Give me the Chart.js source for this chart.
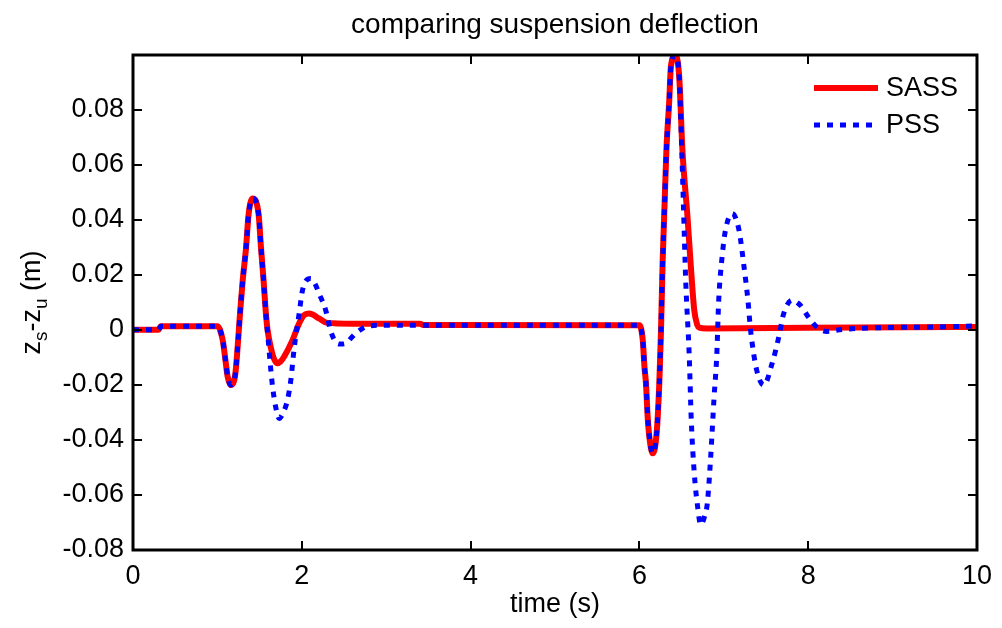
<!DOCTYPE html>
<html>
<head>
<meta charset="utf-8">
<script src="https://cdn.jsdelivr.net/npm/chart.js@4"></script>
<style>
  html, body { margin: 0; padding: 0; background: #fff; }
  canvas { display: block; }
</style>
</head>
<body>
<canvas id="deflChart" width="1002" height="628"></canvas>
<script>
// suspension deflection z_s - z_u (m) against time (s)
const sassTime = [0, 0.3, 0.33, 1.0, 1.063, 1.095, 1.122, 1.16, 1.213, 1.24, 1.268, 1.30, 1.34, 1.37, 1.417,
  1.488, 1.516, 1.547, 1.575, 1.594, 1.634, 1.67, 1.712, 1.75, 1.79, 1.89, 1.968, 2.027, 2.08, 2.13, 2.204,
  2.30, 2.59, 3.40, 3.44, 6.0, 6.04, 6.06, 6.078, 6.098, 6.118, 6.157, 6.204, 6.236, 6.255, 6.275, 6.30,
  6.32, 6.354, 6.373, 6.425, 6.472, 6.51, 6.57, 6.61, 6.65, 6.685, 6.71, 6.8, 8.0, 10.0];
const sassDefl = [0, 0, 0.0013, 0.0013, -0.0038, -0.011, -0.0171, -0.0201, -0.0159, -0.0062, 0.0059, 0.018, 0.030, 0.042, 0.0477,
  0.042, 0.030, 0.018, 0.0058, 0, -0.0066, -0.0105, -0.0122, -0.0115, -0.0098, -0.0038, 0.0023, 0.0053, 0.0059, 0.0055, 0.0041,
  0.0025, 0.0022, 0.0022, 0.0017, 0.0016, -0.0038, -0.0135, -0.0195, -0.0316, -0.0389, -0.0449, -0.0377, -0.0194, -0.0013, 0.0242, 0.047,
  0.0652, 0.0834, 0.0955, 0.0997, 0.0918, 0.0652, 0.041, 0.0228, 0.0071, 0.0018, 0.0008, 0.0005, 0.0007, 0.001];

const pssTime = [0, 0.3, 0.33, 1.0, 1.063, 1.095, 1.122, 1.16, 1.213, 1.24, 1.268, 1.30, 1.34, 1.37, 1.417,
  1.488, 1.516, 1.547, 1.575, 1.60, 1.625, 1.655, 1.69, 1.732, 1.78, 1.83, 1.87, 1.91, 1.968, 2.007, 2.05,
  2.106, 2.16, 2.204, 2.283, 2.34, 2.40, 2.46, 2.519, 2.59, 2.637, 2.755, 2.9, 6.0, 6.04, 6.06, 6.078,
  6.098, 6.118, 6.157, 6.204, 6.236, 6.255, 6.275, 6.30, 6.32, 6.354, 6.373, 6.425, 6.472, 6.49, 6.52,
  6.55, 6.59, 6.615, 6.65, 6.69, 6.727, 6.77, 6.805, 6.845, 6.885, 6.916, 6.94, 6.98, 7.02, 7.10, 7.18,
  7.24, 7.286, 7.317, 7.39, 7.475, 7.573, 7.652, 7.71, 7.81, 7.907, 8.0, 8.10, 8.22, 8.4, 8.8, 9.5, 10.0];
const pssDefl = [0, 0, 0.0013, 0.0013, -0.0038, -0.011, -0.0171, -0.0201, -0.0159, -0.0062, 0.0059, 0.018, 0.030, 0.042, 0.0477,
  0.042, 0.030, 0.018, 0.0058, -0.003, -0.012, -0.021, -0.028, -0.0322, -0.030, -0.0256, -0.0183, -0.0066, 0.0058, 0.0142, 0.0178,
  0.0186, 0.0165, 0.0132, 0.0071, -0.0002, -0.0044, -0.0052, -0.005, -0.0028, -0.0014, 0.001, 0.0016, 0.0016, -0.0038, -0.0135, -0.0195,
  -0.0316, -0.0389, -0.0449, -0.0377, -0.0194, -0.0013, 0.0242, 0.047, 0.0652, 0.0834, 0.0955, 0.0997, 0.0918, 0.0773, 0.047,
  0.0169, -0.009, -0.033, -0.052, -0.0643, -0.0709, -0.068, -0.063, -0.0461, -0.0244, -0.0098, 0.0107, 0.0265, 0.0362, 0.0422, 0.0362,
  0.0228, 0.0107, 0, -0.0147, -0.0201, -0.0122, -0.0026, 0.0059, 0.0107, 0.0089, 0.0047, 0.001, -0.0006, 0.0001, 0.0007, 0.001, 0.0014];

const xTicks = [0, 2, 4, 6, 8, 10];
const yTicks = [-0.08, -0.06, -0.04, -0.02, 0, 0.02, 0.04, 0.06, 0.08];

const FONT = '"Liberation Sans", Arial, Helvetica, sans-serif';

const toPoints = (xs, ys) => xs.map((x, i) => ({ x, y: ys[i] }));

// box, inward ticks, titles and the in-plot legend, drawn the MATLAB way
const matlabFrame = {
  id: 'matlabFrame',
  afterDraw(chart) {
    const { ctx, chartArea: a, scales } = chart;
    ctx.save();
    ctx.strokeStyle = '#000';
    ctx.lineCap = 'butt';

    // inward tick marks on all four sides
    ctx.lineWidth = 2;
    const tl = 9;
    ctx.beginPath();
    xTicks.forEach(v => {
      const px = Math.round(scales.x.getPixelForValue(v));
      ctx.moveTo(px, a.bottom); ctx.lineTo(px, a.bottom - tl);
      ctx.moveTo(px, a.top); ctx.lineTo(px, a.top + tl);
    });
    yTicks.forEach(v => {
      const py = Math.round(scales.y.getPixelForValue(v));
      ctx.moveTo(a.left, py); ctx.lineTo(a.left + tl, py);
      ctx.moveTo(a.right, py); ctx.lineTo(a.right - tl, py);
    });
    ctx.stroke();

    ctx.lineWidth = 3;
    ctx.strokeRect(a.left, a.top, a.right - a.left, a.bottom - a.top);

    // title and x label
    ctx.fillStyle = '#000';
    ctx.textAlign = 'center';
    ctx.textBaseline = 'middle';
    const cx = (a.left + a.right) / 2;
    ctx.font = '28px ' + FONT;
    ctx.fillText('comparing suspension deflection', cx, 25);
    ctx.font = '27px ' + FONT;
    ctx.fillText('time (s)', cx, 605);

    // y label with subscripts, rotated
    ctx.save();
    ctx.translate(31, (a.top + a.bottom) / 2);
    ctx.rotate(-Math.PI / 2);
    ctx.textAlign = 'left';
    ctx.textBaseline = 'alphabetic';
    const parts = [['z', 27, 0], ['s', 19, 7], ['-z', 27, 0], ['u', 19, 7], [' (m)', 27, 0]];
    let total = 0;
    parts.forEach(([t, s]) => { ctx.font = s + 'px ' + FONT; total += ctx.measureText(t).width; });
    let x = -total / 2;
    parts.forEach(([t, s, dy]) => {
      ctx.font = s + 'px ' + FONT;
      ctx.fillText(t, x, 9 + dy);
      x += ctx.measureText(t).width;
    });
    ctx.restore();

    // legend inside the top right corner
    const rows = [88, 125];
    chart.data.datasets.forEach((ds, i) => {
      const y = rows[i];
      ctx.strokeStyle = ds.borderColor;
      ctx.lineWidth = ds.borderWidth;
      ctx.setLineDash(ds.borderDash || []);
      ctx.beginPath();
      ctx.moveTo(814, y); ctx.lineTo(878, y);
      ctx.stroke();
      ctx.setLineDash([]);
      ctx.fillStyle = '#000';
      ctx.textAlign = 'left';
      ctx.textBaseline = 'middle';
      ctx.font = '27px ' + FONT;
      ctx.fillText(ds.label, 886, y + 1);
    });
    ctx.restore();
  }
};

new Chart(document.getElementById('deflChart').getContext('2d'), {
  type: 'line',
  data: {
    datasets: [
      {
        label: 'SASS',
        data: toPoints(sassTime, sassDefl),
        borderColor: '#ff0000',
        borderWidth: 6,
        order: 1
      },
      {
        label: 'PSS',
        data: toPoints(pssTime, pssDefl),
        borderColor: '#0000ff',
        borderWidth: 5,
        borderDash: [6, 7],
        borderCapStyle: 'butt',
        order: 0
      }
    ]
  },
  options: {
    responsive: false,
    animation: false,
    events: [],
    parsing: false,
    cubicInterpolationMode: 'monotone',
    pointRadius: 0,
    layout: { padding: { top: 55, right: 22, left: 0, bottom: 0 } },
    plugins: {
      legend: { display: false },
      title: { display: false },
      tooltip: { enabled: false }
    },
    scales: {
      x: {
        type: 'linear',
        min: 0,
        max: 10,
        grid: { display: false, drawTicks: false, tickLength: 0 },
        border: { display: false },
        afterBuildTicks: s => { s.ticks = xTicks.map(v => ({ value: v })); },
        afterFit: s => { s.height = 78; },
        ticks: {
          color: '#000',
          font: { family: FONT, size: 27 },
          padding: 10,
          maxRotation: 0,
          callback: v => String(v)
        }
      },
      y: {
        type: 'linear',
        min: -0.08,
        max: 0.0998,
        grid: { display: false, drawTicks: false, tickLength: 0 },
        border: { display: false },
        afterBuildTicks: s => { s.ticks = yTicks.map(v => ({ value: v })); },
        afterFit: s => { s.width = 133; },
        ticks: {
          color: '#000',
          font: { family: FONT, size: 27 },
          padding: 9,
          callback: v => (v === 0 ? '0' : v.toFixed(2))
        }
      }
    }
  },
  plugins: [matlabFrame]
});
</script>
</body>
</html>
